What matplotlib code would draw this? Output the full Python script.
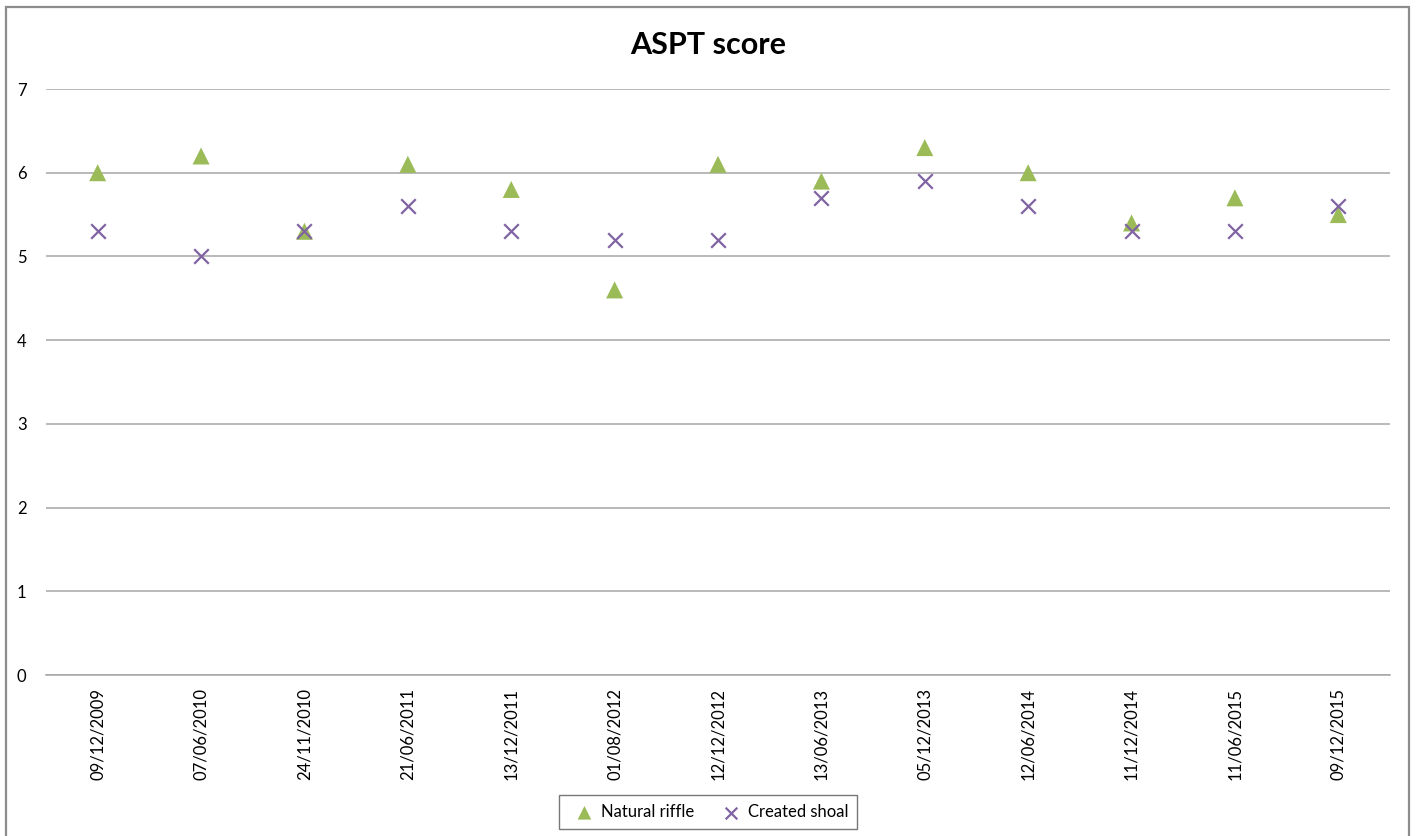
import matplotlib
matplotlib.use("Agg")
import matplotlib.pyplot as plt
from matplotlib.patches import Rectangle

# Sampling dates and ASPT scores for each site
dates = ["09/12/2009", "07/06/2010", "24/11/2010", "21/06/2011", "13/12/2011",
         "01/08/2012", "12/12/2012", "13/06/2013", "05/12/2013", "12/06/2014",
         "11/12/2014", "11/06/2015", "09/12/2015"]
natural_riffle = [6.0, 6.2, 5.3, 6.1, 5.8, 4.6, 6.1, 5.9, 6.3, 6.0, 5.4, 5.7, 5.5]
created_shoal = [5.3, 5.0, 5.3, 5.6, 5.3, 5.2, 5.2, 5.7, 5.9, 5.6, 5.3, 5.3, 5.6]

plt.rcParams['font.family'] = ['Lato', 'DejaVu Sans']

W, H = 1416, 836
fig = plt.figure(figsize=(W / 100, H / 100), dpi=100)
fig.patch.set_facecolor("white")

# Outer chart frame
fig.add_artist(Rectangle((6 / W, -0.05), (1409 - 6) / W, 1.05 - 7 / H,
                         transform=fig.transFigure, fill=False,
                         edgecolor="#8c8c8c", linewidth=1.6))

ax = fig.add_axes([46 / W, 1 - 675 / H, (1390 - 46) / W, (675 - 89) / H])

x = list(range(len(dates)))
ax.scatter(x, natural_riffle, marker="^", s=150, color="#9BBB59",
           edgecolors="none", label="Natural riffle", zorder=3)
ax.scatter(x, created_shoal, marker="x", s=110, color="#8064A2",
           linewidths=1.6, label="Created shoal", zorder=4)

ax.set_xlim(-0.5, len(dates) - 0.5)
ax.set_ylim(0, 7)
ax.set_yticks(range(0, 8))
ax.set_xticks(x)
ax.set_xticklabels(dates, rotation=90, fontsize=12)
ax.tick_params(axis="y", length=0, labelsize=12, pad=14)
ax.tick_params(axis="x", length=0, pad=9)

ax.grid(axis="y", color="#a6a6a6", linewidth=1.1)
ax.set_axisbelow(True)
for side in ["top", "right", "left"]:
    ax.spines[side].set_visible(False)
ax.spines["bottom"].set_color("#a6a6a6")
ax.spines["bottom"].set_linewidth(1.1)

fig.text(708 / W, 1 - 45 / H, "ASPT score", ha="center", va="center",
         fontsize=22, fontweight="bold")

leg = fig.legend(loc="upper center", bbox_to_anchor=(708 / W, 1 - 795 / H),
                 ncol=2, fontsize=12, frameon=True, fancybox=False,
                 handletextpad=0.0, columnspacing=1.2, borderpad=0.55,
                 borderaxespad=0.0, markerscale=0.8)
leg.get_frame().set_edgecolor("#555555")
leg.get_frame().set_linewidth(1.0)

fig.savefig("out.png", dpi=100)
